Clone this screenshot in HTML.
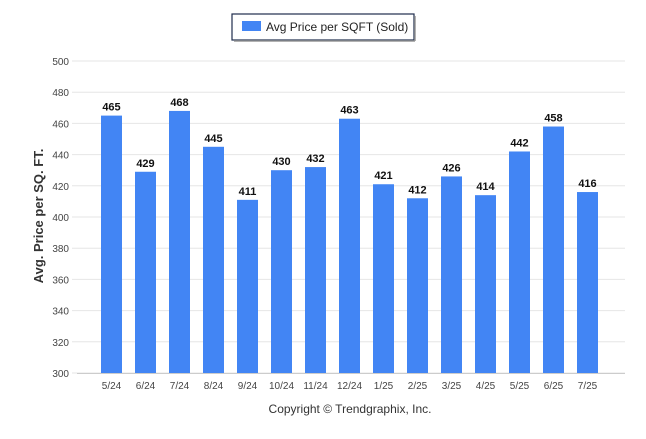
<!DOCTYPE html>
<html><head><meta charset="utf-8"><style>
body{margin:0;background:#fff;font-family:"Liberation Sans",sans-serif}
svg text{font-family:"Liberation Sans",sans-serif}
</style></head><body>
<svg id="c" width="646" height="434">
<rect x="232" y="14" width="182" height="26" fill="#fff" stroke="#1f2d4d" stroke-width="1.2"/>
<line x1="234" y1="41" x2="415" y2="41" stroke="#999" stroke-width="1.5"/>
<line x1="415" y1="16" x2="415" y2="41" stroke="#999" stroke-width="1.5"/>
<rect x="242" y="21" width="19" height="10" fill="#4285f4"/>
<text x="266" y="31" font-size="12" fill="#222">Avg Price per SQFT (Sold)</text>
<text transform="translate(43,216) rotate(-90)" text-anchor="middle" font-size="13" font-weight="bold" fill="#333">Avg. Price per SQ. FT.</text>
<text x="350" y="413" text-anchor="middle" font-size="12" fill="#333">Copyright © Trendgraphix, Inc.</text>
<g id="g"></g>
</svg>
<script>
const categories=["5/24","6/24","7/24","8/24","9/24","10/24","11/24","12/24","1/25","2/25","3/25","4/25","5/25","6/25","7/25"];
const values=[465,429,468,445,411,430,432,463,421,412,426,414,442,458,416];
const ticks=[300,320,340,360,380,400,420,440,460,480,500];
const NS="http://www.w3.org/2000/svg",g=document.getElementById('g');
const y=v=>373-(v-300)*312/200, x=i=>111.5+i*34;
function mk(t,a){const e=document.createElementNS(NS,t);for(const k in a)e.setAttribute(k,a[k]);g.appendChild(e);return e;}
ticks.forEach(t=>{
 const l=mk('line',{x1:72,x2:625,y1:y(t),y2:y(t),stroke:'#e6e6e6'});
 
 
 const s=mk('text',{x:69,y:y(t)+4,'text-anchor':'end','font-size':'10',fill:'#444'});s.textContent=t;
 
 
});
const ax=mk('line',{x1:77,x2:625,y1:373.5,y2:373.5,stroke:'#ccc'});


categories.forEach((c,i)=>{
 const b=mk('rect',{x:x(i)-10.5,y:y(values[i]),width:21,height:373-y(values[i]),fill:'#4285f4'});
 
 
 const v=mk('text',{x:x(i),y:y(values[i])-5,'text-anchor':'middle','font-size':'11','font-weight':'bold',fill:'#111'});v.textContent=values[i];
 
 
 const t=mk('text',{x:x(i),y:389,'text-anchor':'middle','font-size':'10',fill:'#444'});t.textContent=c;
 
 
});
</script>
</body></html>
